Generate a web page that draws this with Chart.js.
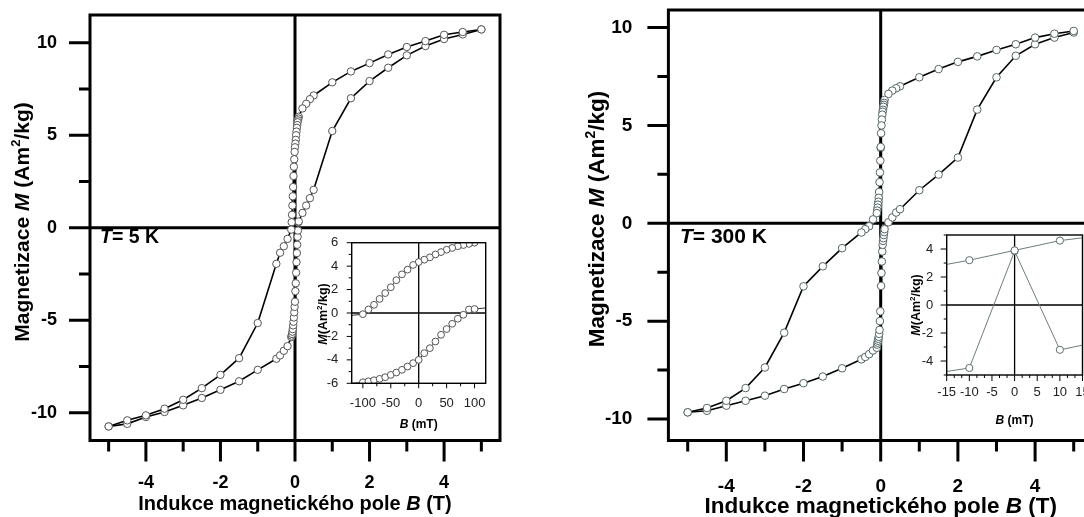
<!DOCTYPE html>
<html><head><meta charset="utf-8">
<script src="https://cdn.jsdelivr.net/npm/chart.js@4.4.0/dist/chart.umd.min.js"></script>
<style>
html,body{margin:0;padding:0;background:#fff;width:1084px;height:517px;overflow:hidden;position:relative;}
.w{position:absolute;}
</style></head><body>
<div class="w" style="left:0;top:0;width:540px;height:517px"><canvas id="cL" width="540" height="517"></canvas></div>
<div class="w" style="left:540px;top:0;width:600px;height:517px"><canvas id="cR" width="600" height="517"></canvas></div>
<div class="w" style="left:290px;top:228px;width:205px;height:205px"><canvas id="cLi" width="205" height="205"></canvas></div>
<div class="w" style="left:880px;top:222px;width:204px;height:210px"><canvas id="cRi" width="204" height="210"></canvas></div>
<script>
// ---------------- data ----------------
const FIELD_DESC = [5,4.5,4,3.5,3,2.5,2,1.5,1,0.5,0.4,0.3,0.2,0.1,0.09,0.08,0.07,0.06,0.05,0.04,0.03,0.02,0.01,0,-0.01,-0.02,-0.03,-0.04,-0.05,-0.06,-0.07,-0.08,-0.09,-0.1,-0.2,-0.3,-0.4,-0.5,-1,-1.5,-2,-2.5,-3,-3.5,-4,-4.5,-5];
const FIELD_ASC = [-5,-4.5,-4,-3.5,-3,-2.5,-2,-1.5,-1,-0.5,-0.4,-0.3,-0.2,-0.1,-0.09,-0.08,-0.07,-0.06,-0.05,-0.04,-0.03,-0.02,-0.01,0,0.01,0.02,0.03,0.04,0.05,0.06,0.07,0.08,0.09,0.1,0.2,0.3,0.4,0.5,1,1.5,2,2.5,3,3.5,4,4.5,5];

const M5K_DESC = [10.72,10.58,10.43,10.09,9.77,9.37,8.9,8.45,7.86,7.15,6.95,6.7,6.45,6.0,5.9,5.8,5.7,5.55,5.4,5.2,5.0,4.75,4.55,4.35,4.1,3.7,3.3,2.8,2.2,1.7,1.2,0.7,0.3,-0.1,-0.6,-1.0,-1.35,-1.95,-5.15,-7.05,-7.95,-8.67,-9.3,-9.78,-10.14,-10.41,-10.74];
const M5K_ASC = [-10.74,-10.6,-10.23,-9.96,-9.6,-9.2,-8.76,-8.3,-7.68,-7.08,-6.9,-6.65,-6.4,-5.91,-5.83,-5.74,-5.62,-5.48,-5.28,-5.08,-4.85,-4.57,-4.28,-4.0,-3.43,-3.0,-2.43,-1.86,-1.37,-0.92,-0.49,-0.15,0.3,0.34,0.8,1.2,1.6,2.05,5.23,7.0,7.93,8.65,9.32,9.82,10.2,10.45,10.72];

const M300K_DESC = [9.83,9.69,9.49,9.15,8.86,8.53,8.25,7.88,7.46,7.0,6.9,6.78,6.61,6.3,6.15,6.05,5.95,5.8,5.7,5.55,5.3,5.0,4.6,3.9,3.2,2.6,2.1,1.6,1.3,1.1,0.95,0.8,0.65,0.52,0.2,-0.15,-0.3,-0.47,-1.27,-2.2,-3.22,-5.59,-7.37,-8.42,-9.07,-9.44,-9.66];
const M300K_ASC = [-9.66,-9.58,-9.32,-9.07,-8.81,-8.47,-8.17,-7.83,-7.41,-6.95,-6.83,-6.69,-6.5,-6.36,-6.2,-6.1,-6.0,-5.9,-5.8,-5.65,-5.45,-5.0,-4.5,3.85,-3.2,-2.54,-1.95,-1.44,-1.1,-0.9,-0.76,-0.6,-0.45,-0.3,0.05,0.3,0.55,0.72,1.69,2.49,3.36,5.81,7.46,8.56,9.15,9.49,9.75];

// tick values
const MAIN_X_MAJOR = [-4,-2,0,2,4];
const MAIN_X_MINOR = [-5,-3,-1,1,3,5];
const MAIN_Y_MAJOR = [-10,-5,0,5,10];
const MAIN_Y_MINOR = [-7.5,-2.5,2.5,7.5];
const IN5_X_MAJOR = [-100,-50,0,50,100];
const IN5_X_MINOR = [-75,-25,25,75];
const IN5_Y_MAJOR = [-6,-4,-2,0,2,4,6];
const IN5_Y_MINOR = [-5,-3,-1,1,3,5];
const IN300_X_MAJOR = [-15,-10,-5,0,5,10,15];
const IN300_X_MINOR = [-13.33,-11.67,-8.33,-6.67,-3.33,-1.67,1.67,3.33,6.67,8.33,11.67,13.33];
const IN300_Y_MAJOR = [-4,-2,0,2,4];
const IN300_Y_MINOR = [-5,-3,-1,1,3,5];

// ---------------- helpers ----------------
const FAM = '"Liberation Sans", Arial, sans-serif';
function pts(B, M, k){ return B.map((b,i)=>({x: Math.round(b*k*1000)/1000, y: M[i]})); }
function near(B, M, lim){ const o=[]; B.forEach((b,i)=>{ if(Math.abs(b)<=lim) o.push({x: Math.round(b*1000), y: M[i]}); }); return o; }

function drawRich(ctx, segs, size, x, y, rot){
  ctx.save(); ctx.translate(x,y); if(rot) ctx.rotate(rot);
  const f = s => (s==='i'?'italic ':'') + 'bold ' + (s==='sup'? Math.round(size*0.62) : size) + 'px ' + FAM;
  let w=0; for(const [t,s] of segs){ ctx.font=f(s); w+=ctx.measureText(t).width; }
  let cx=-w/2; ctx.fillStyle='#000'; ctx.textBaseline='alphabetic'; ctx.textAlign='left';
  for(const [t,s] of segs){ ctx.font=f(s); ctx.fillText(t, cx, s==='sup'? -size*0.4 : 0); cx+=ctx.measureText(t).width; }
  ctx.restore();
}
function drawLeft(ctx, segs, size, x, y){
  ctx.save(); ctx.fillStyle='#000'; ctx.textBaseline='alphabetic'; ctx.textAlign='left';
  let cx=x;
  for(const [t,s] of segs){ ctx.font=(s==='i'?'italic ':'')+'bold '+size+'px '+FAM; ctx.fillText(t,cx,y); cx+=ctx.measureText(t).width; }
  ctx.restore();
}

function decoPlugin(o){
  return {
    id: 'deco',
    beforeDraw(chart){
      if(o.fillArea){ const a=chart.chartArea, c=chart.ctx; c.save(); c.fillStyle='#fff'; c.fillRect(a.left,a.top,a.right-a.left,a.bottom-a.top); c.restore(); }
    },
    beforeDatasetsDraw(chart){
      const c=chart.ctx, a=chart.chartArea, x=chart.scales.x, y=chart.scales.y;
      c.save(); c.strokeStyle='#000'; c.lineWidth=o.zeroW;
      const x0=x.getPixelForValue(0), y0=y.getPixelForValue(0);
      c.beginPath(); c.moveTo(x0,a.top); c.lineTo(x0,a.bottom); c.moveTo(a.left,y0); c.lineTo(a.right,y0); c.stroke();
      c.restore();
    },
    afterDatasetsDraw(chart){
      const c=chart.ctx, a=chart.chartArea, x=chart.scales.x, y=chart.scales.y;
      c.save(); c.strokeStyle='#000'; c.lineCap='butt';
      c.lineWidth=o.tickW; c.beginPath();
      o.xMajor.forEach(v=>{const p=x.getPixelForValue(v); c.moveTo(p,a.bottom); c.lineTo(p,a.bottom+o.majLen);});
      o.xMinor.forEach(v=>{const p=x.getPixelForValue(v); c.moveTo(p,a.bottom); c.lineTo(p,a.bottom+o.minLen);});
      o.yMajor.forEach(v=>{const p=y.getPixelForValue(v); c.moveTo(a.left,p); c.lineTo(a.left-o.majLen,p);});
      o.yMinor.forEach(v=>{const p=y.getPixelForValue(v); c.moveTo(a.left,p); c.lineTo(a.left-o.minLen,p);});
      c.stroke();
      c.lineWidth=o.frameW; c.strokeRect(a.left,a.top,a.right-a.left,a.bottom-a.top);
      c.restore();
    },
    afterDraw(chart){
      const c=chart.ctx, a=chart.chartArea;
      if(o.xTitle) drawRich(c, o.xTitle.segs, o.xTitle.size, (a.left+a.right)/2 + (o.xTitle.dx||0), o.xTitle.y, 0);
      if(o.yTitle) drawRich(c, o.yTitle.segs, o.yTitle.size, o.yTitle.x, o.yTitle.y, -Math.PI/2);
      if(o.tLabel) drawLeft(c, o.tLabel.segs, o.tLabel.size, o.tLabel.x, o.tLabel.y);
    }
  };
}

function makeChart(id, cfg){
  const ds = cfg.series.map(s=>({
    data: s, showLine:true, borderColor: cfg.lineColor, borderWidth: cfg.lineW,
    pointRadius: cfg.r, pointHoverRadius: cfg.r, pointBackgroundColor:'#fff',
    pointBorderColor: cfg.ptColor, pointBorderWidth: cfg.ptW, tension:0, clip: cfg.clip
  }));
  const tickFont = {family: FAM, size: cfg.tickSize, weight: cfg.tickWeight};
  return new Chart(document.getElementById(id), {
    type:'scatter',
    data:{datasets: ds},
    options:{
      responsive:false, animation:false, devicePixelRatio:1,
      layout:{padding: cfg.pad, autoPadding:false},
      plugins:{legend:{display:false}, tooltip:{enabled:false}},
      scales:{
        x:{type:'linear', min:cfg.xr[0], max:cfg.xr[1],
           afterBuildTicks: s=>{ s.ticks = cfg.xMajor.map(v=>({value:v})); },
           afterFit: s=>{ s.height = cfg.xH; s.paddingLeft = 0; s.paddingRight = 0; s.paddingTop = 0; s.paddingBottom = 0; },
           grid:{display:true, drawOnChartArea:false, drawTicks:false, color:'rgba(0,0,0,0)'},
           border:{display:false},
           ticks:{autoSkip:false, maxRotation:0, padding: cfg.xPad, font: tickFont, color: cfg.tickColor, callback: v=>String(v)}},
        y:{type:'linear', min:cfg.yr[0], max:cfg.yr[1],
           afterBuildTicks: s=>{ s.ticks = cfg.yMajor.map(v=>({value:v})); },
           afterFit: s=>{ s.width = cfg.yW; s.paddingTop = 0; s.paddingBottom = 0; s.paddingLeft = 0; s.paddingRight = 0; },
           grid:{display:true, drawOnChartArea:false, drawTicks:false, color:'rgba(0,0,0,0)'},
           border:{display:false},
           ticks:{autoSkip:false, padding: cfg.yPad, font: tickFont, color: cfg.tickColor, callback: v=>String(v)}}
      }
    },
    plugins:[decoPlugin(cfg.deco)]
  });
}

// ---------------- left main (5 K) ----------------
makeChart('cL', {
  series:[pts(FIELD_DESC,M5K_DESC,1), pts(FIELD_ASC,M5K_ASC,1)],
  lineColor:'#000', lineW:1.6, r:3.7, ptColor:'#555', ptW:1, clip:false,
  tickSize:18, tickWeight:'bold', tickColor:'#000',
  pad:{left:0, top:15, right:40, bottom:0}, xH:76.5, yW:90,
  xr:[-5.5,5.5], yr:[-11.5,11.5], xMajor:MAIN_X_MAJOR, yMajor:MAIN_Y_MAJOR, xPad:32, yPad:33,
  deco:{zeroW:3, tickW:3, frameW:3, majLen:21, minLen:11,
    xMajor:MAIN_X_MAJOR, xMinor:MAIN_X_MINOR, yMajor:MAIN_Y_MAJOR, yMinor:MAIN_Y_MINOR,
    xTitle:{segs:[['Indukce magnetického pole ',''],['B','i'],[' (T)','']], size:20, y:510},
    yTitle:{segs:[['Magnetizace ',''],['M','i'],[' (Am',''],['2','sup'],['/kg)','']], size:21, x:28.5, y:222},
    tLabel:{segs:[['T','i'],['= 5 K','']], size:19.5, x:100, y:243}}
});

// ---------------- right main (300 K) ----------------
makeChart('cR', {
  series:[pts(FIELD_DESC,M300K_DESC,1), pts(FIELD_ASC,M300K_ASC,1)],
  lineColor:'#000', lineW:1.6, r:3.8, ptColor:'#566', ptW:1, clip:false,
  tickSize:19, tickWeight:'bold', tickColor:'#000',
  pad:{left:0, top:10, right:47, bottom:0}, xH:76.5, yW:128.4,
  xr:[-5.5,5.5], yr:[-11.1,10.9], xMajor:MAIN_X_MAJOR, yMajor:MAIN_Y_MAJOR, xPad:35, yPad:36,
  deco:{zeroW:3, tickW:3, frameW:3, majLen:21, minLen:11,
    xMajor:MAIN_X_MAJOR, xMinor:MAIN_X_MINOR, yMajor:MAIN_Y_MAJOR, yMinor:MAIN_Y_MINOR,
    xTitle:{segs:[['Indukce magnetického pole ',''],['B','i'],[' (T)','']], size:22.5, y:513},
    yTitle:{segs:[['Magnetizace ',''],['M','i'],[' (Am',''],['2','sup'],['/kg)','']], size:22.5, x:64, y:219},
    tLabel:{segs:[['T','i'],['= 300 K','']], size:21, x:140, y:243}}
});

// ---------------- left inset ----------------
makeChart('cLi', {
  series:[near(FIELD_DESC,M5K_DESC,0.2), near(FIELD_ASC,M5K_ASC,0.2)],
  lineColor:'#333', lineW:1, r:3.4, ptColor:'#555', ptW:1, clip:0,
  tickSize:13, tickWeight:'normal', tickColor:'#222',
  pad:{left:0, top:14.7, right:9.3, bottom:0}, xH:49.7, yW:61.7,
  xr:[-120,120], yr:[-6,6], xMajor:IN5_X_MAJOR, yMajor:IN5_Y_MAJOR, xPad:12, yPad:13.5,
  deco:{fillArea:true, zeroW:1.3, tickW:1, frameW:1.4, majLen:5, minLen:3,
    xMajor:IN5_X_MAJOR, xMinor:IN5_X_MINOR, yMajor:IN5_Y_MAJOR, yMinor:IN5_Y_MINOR,
    xTitle:{segs:[['B','i'],[' (mT)','']], size:12, y:200},
    yTitle:{segs:[['M','i'],['(Am',''],['2','sup'],['/kg)','']], size:12.5, x:37, y:86}}
});

// ---------------- right inset ----------------
makeChart('cRi', {
  series:[near(FIELD_DESC,M300K_DESC,0.03), near(FIELD_ASC,M300K_ASC,0.03)],
  lineColor:'#6f7d7d', lineW:1, r:3.6, ptColor:'#5f6f6f', ptW:1, clip:0,
  tickSize:13, tickWeight:'normal', tickColor:'#222',
  pad:{left:0, top:13, right:1.5, bottom:0}, xH:57, yW:66.7,
  xr:[-15,15], yr:[-5,5], xMajor:IN300_X_MAJOR, yMajor:IN300_Y_MAJOR, xPad:10, yPad:13.4,
  deco:{fillArea:true, zeroW:1.3, tickW:1, frameW:1.4, majLen:6, minLen:3,
    xMajor:IN300_X_MAJOR, xMinor:IN300_X_MINOR, yMajor:IN300_Y_MAJOR, yMinor:IN300_Y_MINOR,
    xTitle:{segs:[['B','i'],[' (mT)','']], size:12, y:202},
    yTitle:{segs:[['M','i'],['(Am',''],['2','sup'],['/kg)','']], size:12.5, x:40, y:83}}
});
</script>
</body></html>
